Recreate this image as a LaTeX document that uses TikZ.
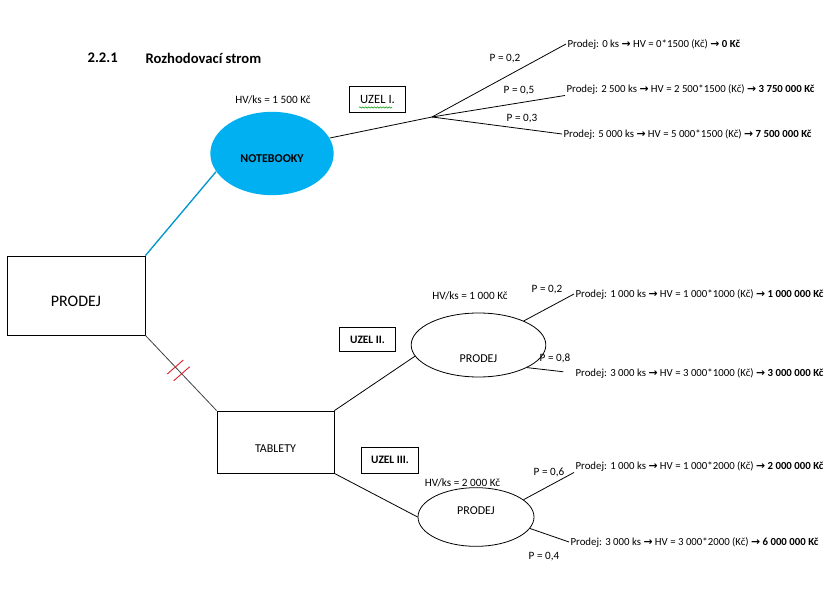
\documentclass[tikz,border=0pt]{standalone}
\usepackage{fontspec}
\setmainfont{Carlito}
\newfontfamily\arrfont{DejaVu Sans}
\usetikzlibrary{shapes.geometric}
\usetikzlibrary{decorations.pathmorphing}
\definecolor{nbblue}{HTML}{00B0F0}
\definecolor{cutred}{HTML}{E02030}
\newcommand{\arr}{{\arrfont\bfseries\char"2192}}

\begin{document}
\begin{tikzpicture}
		[x=0.75pt, y=-0.75pt,
		every node/.style={inner sep=1pt},
		box/.style={draw,line width=0.6pt,inner sep=0pt},
		uzel/.style={draw,line width=0.6pt,minimum width=42.5pt,minimum height=18.5pt,font=\fontsize{8.5}{10}\selectfont\bfseries},
        choice/.style={ellipse,draw,line width=0.6pt,inner sep=0pt,font=\fontsize{9}{11}\selectfont},
        small/.style={font=\fontsize{8.4}{10}\selectfont},
        leaf/.style={anchor=west,font=\fontsize{8.1}{10}\selectfont},
        title/.style={anchor=west,font=\fontsize{11}{13}\selectfont\bfseries},
		branch/.style={line width=0.6pt},
        cut/.style={cutred,line width=0.7pt},
        squiggle/.style={green!60!black,line width=0.4pt,decorate,decoration={snake,amplitude=0.5pt,segment length=2.2pt}}
        ]

        % page frame
        \useasboundingbox (0,0) rectangle (835,602);

        % heading
        \node[title] (num) at (86,58) {2.2.1};
        \node[title] (head) at (144,58) {Rozhodovací strom};

        % root and first level
        \node[box,minimum width=103.5pt,minimum height=59.25pt,font=\fontsize{12}{14}\selectfont,text height=17pt,text depth=0pt] (prodej) at (76,295.5) {PRODEJ};
        \node[box,minimum width=87.75pt,minimum height=46.5pt,font=\fontsize{9}{11}\selectfont,text height=16pt,text depth=0pt] (tablety) at (275.5,442) {TABLETY};
        \node[choice,draw=none,fill=nbblue,minimum width=92.5pt,minimum height=62.5pt,font=\fontsize{9}{11}\selectfont\bfseries,text height=13pt,text depth=0pt] (notebooky) at (272,153.5) {NOTEBOOKY};

        \draw[nbblue!85!black,line width=1pt] (prodej.north east) -- (notebooky.198);
        \draw[branch,black!75] (prodej.south east) -- (tablety.north west)
            coordinate[pos=0.42] (cut1) coordinate[pos=0.51] (cut2);
        \draw[cut] ([shift={(-8,7)}]cut1) -- ([shift={(8,-7)}]cut1);
        \draw[cut] ([shift={(-8,7)}]cut2) -- ([shift={(8,-7)}]cut2);

        % Uzel I
        \node[small] (hv1) at (273,100) {HV/ks = 1 500 Kč};
        \node[uzel,font=\fontsize{9.5}{11}\selectfont,minimum height=19.5pt] (u1) at (377.5,99) {UZEL I.};
        \draw[squiggle] (359,107.5) -- (392,107.5);
        \coordinate (fork) at (432,117);
        \node[leaf] (t1) at (566,44) {Prodej: 0 ks \arr{} HV = 0*1500 (Kč) \arr{} \textbf{0 Kč}};
        \node[leaf] (t2) at (565,89) {Prodej: 2 500 ks \arr{} HV = 2 500*1500 (Kč) \arr{} \textbf{3 750 000 Kč}};
        \node[leaf] (t3) at (562,134) {Prodej: 5 000 ks \arr{} HV = 5 000*1500 (Kč) \arr{} \textbf{7 500 000 Kč}};
        \node[small] (p1) at (505,59) {P = 0,2};
        \node[small] (p2) at (519,91) {P = 0,5};
        \node[small] (p3) at (522,119) {P = 0,3};
        \draw[branch] (notebooky.15) -- (fork);
        \draw[branch] (fork) -- (t1.west);
        \draw[branch] (fork) -- (t2.south west);
        \draw[branch] (fork) -- (t3.west);

        % Uzel II
        \node[small] (hv2) at (470,296) {HV/ks = 1 000 Kč};
        \node[uzel] (u2) at (367.5,339.5) {UZEL II.};
        \node[choice,minimum width=101pt,minimum height=48pt,text height=26pt,text depth=0pt] (e2) at (478.5,345) {PRODEJ};
        \node[leaf] (t4) at (574,294) {Prodej: 1 000 ks \arr{} HV = 1 000*1000 (Kč) \arr{} \textbf{1 000 000 Kč}};
        \node[leaf] (t5) at (574,373) {Prodej: 3 000 ks \arr{} HV = 3 000*1000 (Kč) \arr{} \textbf{3 000 000 Kč}};
        \node[small] (p4) at (547,290) {P = 0,2};
        \node[small] (p5) at (555,358) {P = 0,8};
        \draw[branch] (tablety.north east) -- (e2.190);
        \draw[branch] (e2.28) -- (t4.west);
        \draw[branch,shorten >=8pt] (e2.-25) -- (t5.west);

        % Uzel III
        \node[small] (hv3) at (462.5,483) {HV/ks = 2 000 Kč};
        \node[uzel,minimum height=19.5pt] (u3) at (390,460) {UZEL III.};
        \node[choice,minimum width=87pt,minimum height=44pt,text height=6pt,text depth=10pt] (e3) at (476,517) {PRODEJ};
        \node[leaf] (t6) at (574,466) {Prodej: 1 000 ks \arr{} HV = 1 000*2000 (Kč) \arr{} \textbf{2 000 000 Kč}};
        \node[leaf] (t7) at (569,542) {Prodej: 3 000 ks \arr{} HV = 3 000*2000 (Kč) \arr{} \textbf{6 000 000 Kč}};
        \node[small] (p6) at (549,472) {P = 0,6};
        \node[small] (p7) at (544,557) {P = 0,4};
        \draw[branch] (tablety.south east) -- (e3.west);
        \draw[branch] (e3.-12) -- (t7.west);
        \draw[branch] (e3.20) -- (t6.south west);

\end{tikzpicture}
\end{document}
